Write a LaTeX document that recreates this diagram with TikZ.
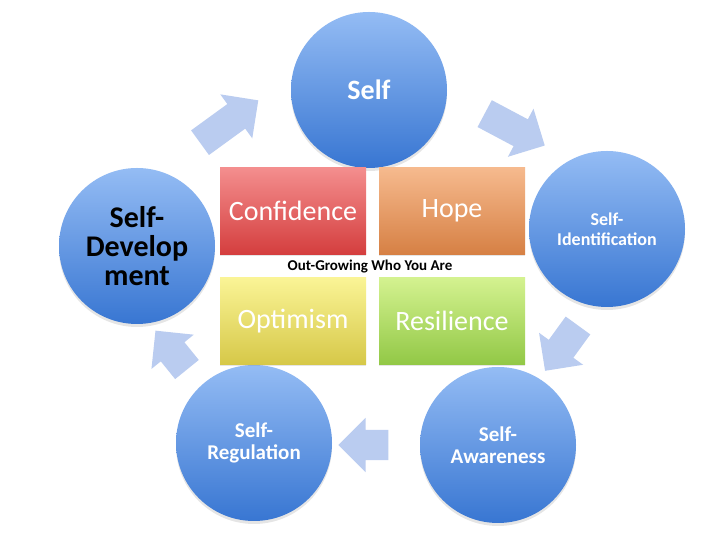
\documentclass[tikz,border=0pt]{standalone}
\usepackage{fontspec}
\setmainfont{Carlito}
\usetikzlibrary{shapes.arrows,shadows}
\definecolor{ctop}{RGB}{148,188,244}
\definecolor{cbot}{RGB}{56,118,210}
\definecolor{aro}{RGB}{186,204,240}
\definecolor{redt}{RGB}{244,142,142}
\definecolor{redb}{RGB}{212,62,62}
\definecolor{orat}{RGB}{246,186,142}
\definecolor{orab}{RGB}{214,128,68}
\definecolor{yelt}{RGB}{250,244,150}
\definecolor{yelb}{RGB}{214,200,72}
\definecolor{grnt}{RGB}{212,242,144}
\definecolor{grnb}{RGB}{146,200,70}
\tikzset{
  % stages of the cycle
  stage/.style={circle,minimum size=156pt,inner sep=0pt,top color=ctop,
    bottom color=cbot,draw=none,align=center,text=white,
    drop shadow={shadow xshift=0pt,shadow yshift=-3pt,opacity=0.2}},
  % the four qualities in the middle
  card/.style={rectangle,minimum width=146pt,minimum height=87pt,
    inner sep=0pt,text=white,font=\fontsize{28}{32}\selectfont,
    drop shadow={shadow xshift=0pt,shadow yshift=-2pt,opacity=0.2}},
  flow/.style={single arrow,fill=aro,draw=none,inner xsep=0pt,
    inner ysep=15pt,single arrow head extend=12pt,minimum height=#1},
  flow/.default=70pt
}
\begin{document}
\begin{tikzpicture}[x=1pt,y=1pt]
  \useasboundingbox (0,0) rectangle (720,540);
  \fill[white] (0,0) rectangle (720,540);
  % cycle
  \node[stage,font=\bfseries\fontsize{28}{32}\selectfont] (self) at (369,450) {Self};
  \node[stage,font=\bfseries\fontsize{18}{20}\selectfont] (ident) at (607,311) {Self-\\Identification};
  \node[stage,font=\bfseries\fontsize{21}{22}\selectfont] (aware) at (498,95) {Self-\\Awareness};
  \node[stage,font=\bfseries\fontsize{21}{22}\selectfont] (regul) at (254,97) {Self-\\Regulation};
  \node[stage,text=black,font=\bfseries\fontsize{30}{29}\selectfont] (devel) at (137,294) {Self-\\Develop\\ment};
  % arrows between the stages
  \node[flow=72pt,rotate=36] (a1) at (223,414) {};
  \node[flow=68pt,rotate=-28] (a2) at (508,414) {};
  \node[flow=56pt,rotate=234] (a3) at (566,198) {};
  \node[flow=50pt,rotate=180] (a4) at (371,95) {};
  \node[flow=50pt,rotate=129] (a5) at (176,184) {};
  % centre
  \node[card,top color=redt,bottom color=redb] (conf) at (293,329) {Confidence};
  \node[card,top color=orat,bottom color=orab] (hope) at (452,329) {Hope};
  \node[card,top color=yelt,bottom color=yelb] (opti) at (293,219) {Optimism};
  \node[card,top color=grnt,bottom color=grnb] (resi) at (452,219) {Resilience};
  \node[font=\bfseries\fontsize{15}{18}\selectfont] (title) at (370,273) {Out-Growing Who You Are};
\end{tikzpicture}
\end{document}
